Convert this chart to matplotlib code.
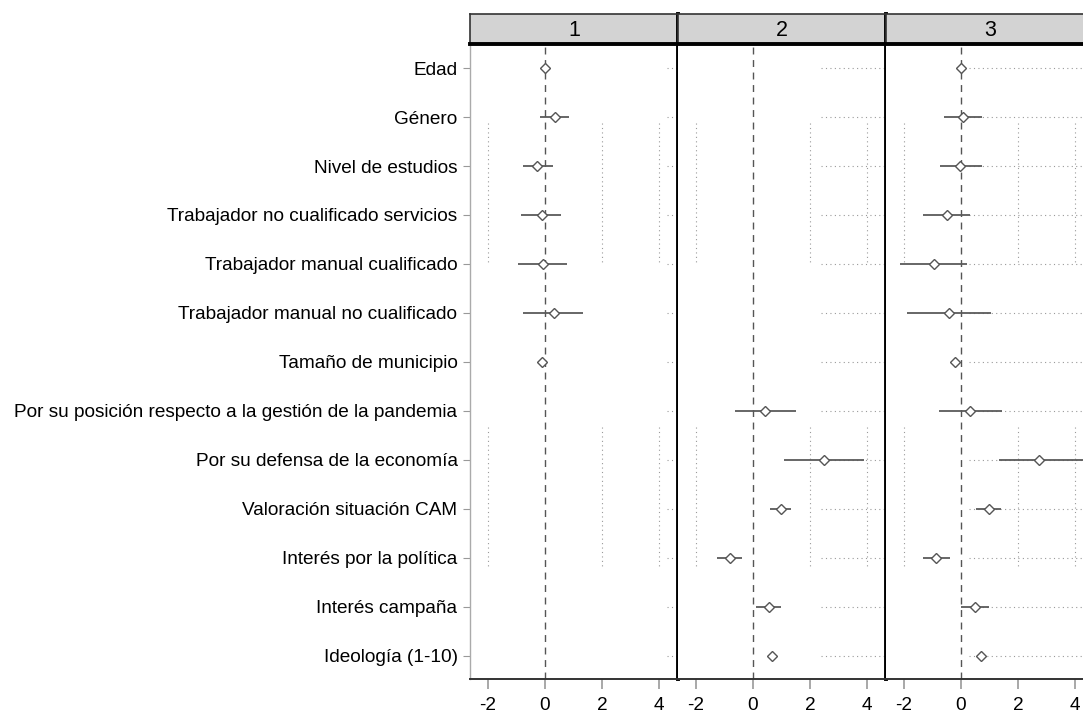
import matplotlib
matplotlib.use('Agg')
import matplotlib.pyplot as plt
import numpy as np

plt.rcParams['font.family'] = ['Liberation Sans', 'DejaVu Sans']

nan = np.nan

variables = [
    "Edad",
    "Género",
    "Nivel de estudios",
    "Trabajador no cualificado servicios",
    "Trabajador manual cualificado",
    "Trabajador manual no cualificado",
    "Tamaño de municipio",
    "Por su posición respecto a la gestión de la pandemia",
    "Por su defensa de la economía",
    "Valoración situación CAM",
    "Interés por la política",
    "Interés campaña",
    "Ideología (1-10)",
]
panels = ["1", "2", "3"]

# point estimates and confidence intervals, one list per panel
coef_1 = [0.0, 0.37, -0.27, -0.11, -0.06, 0.31, -0.11, nan, nan, nan, nan, nan, nan]
lo_1 = [-0.06, -0.17, -0.78, -0.84, -0.94, -0.78, -0.2, nan, nan, nan, nan, nan, nan]
hi_1 = [0.06, 0.86, 0.29, 0.55, 0.77, 1.34, -0.02, nan, nan, nan, nan, nan, nan]

coef_2 = [nan, nan, nan, nan, nan, nan, nan, 0.41, 2.5, 0.99, -0.79, 0.55, 0.68]
lo_2 = [nan, nan, nan, nan, nan, nan, nan, -0.62, 1.1, 0.59, -1.25, 0.12, 0.55]
hi_2 = [nan, nan, nan, nan, nan, nan, nan, 1.52, 3.89, 1.33, -0.39, 0.97, 0.81]

coef_3 = [0.0, 0.08, -0.03, -0.5, -0.93, -0.41, -0.2, 0.33, 2.73, 0.97, -0.87, 0.5, 0.72]
lo_3 = [-0.06, -0.6, -0.75, -1.33, -2.15, -1.9, -0.3, -0.76, 1.34, 0.53, -1.33, 0.0, 0.6]
hi_3 = [0.06, 0.75, 0.75, 0.32, 0.23, 1.07, -0.08, 1.45, 4.4, 1.39, -0.4, 0.97, 0.84]

coefs = [coef_1, coef_2, coef_3]
los = [lo_1, lo_2, lo_3]
his = [hi_1, hi_2, hi_3]

xticks = [-2, 0, 2, 4]
xlim = (-2.63, 4.67)

# the dotted grid is only drawn in patches in the original
vgrid_spans = [(1.12, 4.0), (7.32, 10.18)]
hgrid_from = [4.3, 2.4, 0.3]

W, H = 1083, 713
fig = plt.figure(figsize=(W / 100, H / 100), dpi=100)

left0, pw = 470, 208
top, bottom = 44, 679
strip_top = 14
y = np.arange(len(variables))

for i, name in enumerate(panels):
    x0 = left0 + i * pw
    ax = fig.add_axes([x0 / W, (H - bottom) / H, pw / W, (bottom - top) / H])
    ax.set_xlim(*xlim)
    ax.set_ylim(len(variables) - 0.53, -0.49)

    for xg in [-2, 2, 4]:
        for a, b in vgrid_spans:
            ax.plot([xg, xg], [a, b], color='#9a9a9a', lw=0.8,
                    ls=(0, (1, 3)), zorder=1)
    ax.hlines(y, hgrid_from[i], xlim[1], color='#9a9a9a', lw=0.8,
              ls=(0, (1, 3)), zorder=1)

    ax.axvline(0, color='#555555', lw=1, ls=(0, (5, 4)), zorder=2)

    ax.hlines(y, los[i], his[i], color='#5a5a5a', lw=1.3, zorder=3)
    ax.plot(coefs[i], y, 'D', ms=5, mfc='white', mec='#555555',
            mew=1, zorder=4)

    ax.set_xticks(xticks)
    ax.set_xticklabels([str(t) for t in xticks], fontsize=13.7)
    ax.tick_params(axis='x', length=7, width=1.2, color='#999999', pad=6)
    ax.set_yticks(y)
    if i == 0:
        ax.set_yticklabels(variables, fontsize=13.7)
        ax.tick_params(axis='y', length=5, width=0.8, color='#999999', pad=4)
    else:
        ax.tick_params(axis='y', length=0, labelleft=False)

    ax.spines['top'].set_visible(False)
    ax.spines['bottom'].set_color('#333333')
    ax.spines['bottom'].set_linewidth(1.4)
    ax.spines['right'].set_color('black')
    ax.spines['right'].set_linewidth(2.8)
    if i == 0:
        ax.spines['left'].set_color('#aaaaaa')
        ax.spines['left'].set_linewidth(1)
    else:
        ax.spines['left'].set_visible(False)

    # header strip
    hx = fig.add_axes([x0 / W, (H - top) / H, pw / W, (top - strip_top) / H])
    hx.set_facecolor('#d3d3d3')
    hx.set_xticks([])
    hx.set_yticks([])
    for side in ['top', 'left', 'right']:
        hx.spines[side].set_color('#333333')
        hx.spines[side].set_linewidth(1.2)
    hx.spines['right'].set_color('black')
    hx.spines['right'].set_linewidth(2.8)
    hx.spines['bottom'].set_color('black')
    hx.spines['bottom'].set_linewidth(2.8)
    hx.text(0.5, 0.45, name, ha='center', va='center', fontsize=15.5,
            transform=hx.transAxes)

fig.savefig('out.png', dpi=100, facecolor='white')
